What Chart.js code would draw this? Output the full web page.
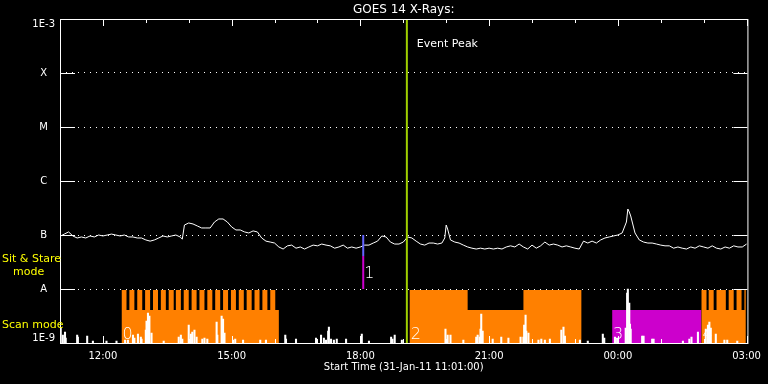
<!DOCTYPE html>
<html>
<head>
<meta charset="utf-8">
<script src="https://cdn.jsdelivr.net/npm/chart.js@4.4.1/dist/chart.umd.min.js"></script>
<style>
  html, body { margin: 0; padding: 0; background: #000; }
  canvas { display: block; }
</style>
</head>
<body>
<canvas id="goes" width="768" height="384"></canvas>
<script>
// GOES 14 1-8 A flux, 31-Jan-11 11:01 -> 01-Feb-11 03:00 (W/m^2)
const curveTimes = [
  '11:01','11:06','11:12','11:18','11:24','11:30','11:36','11:42','11:48','11:54',
  '12:00','12:06','12:12','12:18','12:24','12:30','12:36','12:42','12:48','12:54',
  '13:00','13:06','13:12','13:18','13:24','13:30','13:36','13:42','13:48','13:51',
  '13:54','14:00','14:06','14:12','14:18','14:24','14:30','14:36','14:42','14:48',
  '14:54','15:00','15:06','15:12','15:18','15:24','15:30','15:36','15:42','15:48',
  '15:54','16:00','16:06','16:12','16:18','16:24','16:30','16:36','16:42','16:48',
  '16:54','17:00','17:06','17:12','17:18','17:24','17:30','17:36','17:42','17:48',
  '17:54','18:00','18:06','18:12','18:18','18:24','18:30','18:36','18:42','18:48',
  '18:54','19:00','19:06','19:12','19:18','19:24','19:30','19:36','19:42','19:48',
  '19:54','19:58','20:00','20:02','20:06','20:12','20:18','20:24','20:30','20:36',
  '20:42','20:48','20:54','21:00','21:06','21:12','21:18','21:24','21:30','21:36',
  '21:42','21:48','21:54','22:00','22:06','22:12','22:18','22:24','22:30','22:36',
  '22:42','22:48','22:54','23:00','23:06','23:12','23:18','23:24','23:30','23:36',
  '23:42','23:48','23:54','00:00','00:06','00:12','00:14','00:16','00:18','00:24',
  '00:30','00:36','00:42','00:48','00:54','01:00','01:06','01:12','01:18','01:24',
  '01:30','01:36','01:42','01:48','01:54','02:00','02:06','02:12','02:18','02:24',
  '02:30','02:36','02:42','02:48','02:54','03:00'
];
const curveFlux = [
  9.6e-8, 1.04e-7, 1.14e-7, 9.6e-8, 8.8e-8, 9.2e-8, 8.8e-8, 9.6e-8, 9.2e-8, 1.0e-7,
  9.6e-8, 1.0e-7, 1.04e-7, 1.0e-7, 9.6e-8, 1.0e-7, 9.2e-8, 9.2e-8, 8.8e-8, 8.8e-8,
  8.1e-8, 7.7e-8, 8.1e-8, 8.8e-8, 9.6e-8, 9.2e-8, 9.6e-8, 1.0e-7, 9.2e-8, 8.4e-8,
  1.53e-7, 1.67e-7, 1.60e-7, 1.47e-7, 1.35e-7, 1.35e-7, 1.35e-7, 1.74e-7, 1.98e-7, 1.98e-7,
  1.74e-7, 1.41e-7, 1.24e-7, 1.24e-7, 1.14e-7, 1.09e-7, 1.19e-7, 1.14e-7, 8.8e-8, 7.7e-8,
  7.4e-8, 7.1e-8, 6.0e-8, 5.5e-8, 6.3e-8, 6.5e-8, 5.7e-8, 6.0e-8, 5.5e-8, 6.0e-8,
  6.5e-8, 6.3e-8, 6.8e-8, 6.5e-8, 6.3e-8, 5.7e-8, 6.0e-8, 6.5e-8, 5.7e-8, 6.0e-8,
  5.7e-8, 6.0e-8, 6.5e-8, 6.5e-8, 7.1e-8, 7.7e-8, 9.6e-8, 9.2e-8, 7.4e-8, 6.8e-8,
  6.8e-8, 7.4e-8, 9.2e-8, 8.8e-8, 7.7e-8, 6.8e-8, 6.5e-8, 7.1e-8, 7.1e-8, 6.8e-8,
  7.1e-8, 8.8e-8, 1.53e-7, 1.29e-7, 8.1e-8, 7.4e-8, 7.1e-8, 6.5e-8, 6.0e-8, 5.7e-8,
  5.5e-8, 5.7e-8, 5.5e-8, 5.7e-8, 5.5e-8, 5.7e-8, 5.5e-8, 6.0e-8, 6.3e-8, 6.0e-8,
  6.8e-8, 6.0e-8, 5.5e-8, 6.5e-8, 5.7e-8, 6.3e-8, 7.4e-8, 6.5e-8, 6.8e-8, 6.5e-8,
  6.0e-8, 6.3e-8, 6.0e-8, 5.7e-8, 5.5e-8, 7.7e-8, 7.1e-8, 7.7e-8, 7.1e-8, 8.1e-8,
  8.8e-8, 9.2e-8, 9.6e-8, 1.0e-7, 1.09e-7, 1.74e-7, 3.03e-7, 2.67e-7, 2.25e-7, 1.09e-7,
  8.1e-8, 7.4e-8, 7.1e-8, 7.1e-8, 6.8e-8, 6.5e-8, 6.3e-8, 6.3e-8, 5.7e-8, 6.0e-8,
  5.7e-8, 5.5e-8, 6.0e-8, 5.7e-8, 6.3e-8, 6.0e-8, 5.7e-8, 6.3e-8, 5.7e-8, 5.5e-8,
  6.0e-8, 5.7e-8, 6.3e-8, 6.0e-8, 6.0e-8, 6.8e-8
];

// spiky count trace along the bottom band
const spikeTimes = [
  '11:01','11:04','11:07','11:08','11:24','11:25','11:38','11:46','12:05','12:19',
  '12:31','12:35','12:42','12:44','12:49','12:53','12:54','13:00','13:01','13:03',
  '13:05','13:08','13:25','13:46','13:49','13:51','14:00','14:03','14:05','14:08',
  '14:11','14:19','14:22','14:26','14:39','14:40','14:46','14:48','14:50','15:02',
  '15:05','15:16','15:40','15:48','16:15','16:16','16:30','16:58','17:05','17:09',
  '17:12','17:15','17:16','17:19','17:23','17:27','17:40','18:02','18:12','18:43',
  '18:45','18:48','18:58','19:59','20:02','20:06','20:24','20:42','20:44','20:47',
  '20:48','20:49','20:51','21:05','21:17','21:27','21:44','21:48','21:49','21:51',
  '21:52','21:55','22:09','22:13','22:18','22:25','22:41','22:44','22:46','23:07',
  '23:18','23:39','23:41','23:56','23:59','00:11','00:13','00:14','00:16','00:17',
  '00:18','00:34','00:36','00:48','00:50','01:31','01:40','01:43','01:52','02:03',
  '02:06','02:08','02:10','02:17','02:29','02:33','02:47'
];
const spikeCounts = [
  15, 8, 11, 5, 8, 6, 7, 2, 2, 2,
  3, 3, 8, 5, 9, 6, 4, 13, 22, 30,
  27, 10, 2, 6, 8, 4, 18, 9, 11, 13,
  6, 4, 5, 4, 21, 8, 27, 24, 10, 3,
  4, 3, 3, 3, 8, 4, 4, 5, 8, 5,
  3, 12, 16, 4, 3, 4, 4, 9, 2, 6,
  4, 8, 3, 14, 8, 8, 3, 6, 8, 6,
  14, 29, 12, 4, 6, 5, 6, 6, 18, 28,
  12, 10, 3, 4, 3, 4, 13, 16, 7, 3,
  2, 9, 5, 6, 5, 15, 50, 54, 40, 19,
  14, 7, 7, 4, 4, 2, 4, 6, 11, 14,
  18, 21, 15, 9, 3, 3, 2
];

// instrument mode timeline: each mode holds until the next change
const scanTimes = [
  '12:26','12:33','12:37','12:44','12:48','12:55','12:59','13:06','13:10','13:17',
  '13:21','13:28','13:32','13:39','13:42','13:49','13:53','14:00','14:04','14:11',
  '14:15','14:22','14:26','14:33','14:37','14:44','14:48','14:55','14:59','15:06',
  '15:10','15:17','15:21','15:28','15:32','15:39','15:43','15:50','15:54','16:01',
  '16:06','19:09','20:30','21:48','23:09','01:57','02:04','02:07','02:14','02:18',
  '02:31','02:35','02:42','02:46','02:53','02:57','02:59'
];
const scanModes = [
  'high','low','high','low','high','low','high','low','high','low',
  'high','low','high','low','high','low','high','low','high','low',
  'high','low','high','low','high','low','high','low','high','low',
  'high','low','high','low','high','low','high','low','high','low',
  'off','high','low','high','off','high','low','high','low','high',
  'low','high','low','high','low','high','off'
];
const stareTimes = ['23:52', '01:57'];
const stareModes = ['low', 'off'];
const modeLevel = { high: 0.98, low: 0.61, off: 0 };

const regionLabels = ['0', '2', '3', '4'];
const regionStarts = ['12:26', '19:09', '23:52', '01:57'];

const peakTime = '19:05';
const markTime = '18:04';
const markLabel = '1';
const markFlux = [1e-7, 4.1e-8, 1e-8];

const xTickHours = [12, 15, 18, 21, 24, 27];
const xTickLabels = ['12:00', '15:00', '18:00', '21:00', '00:00', '03:00'];
const yTickValues = [1e-9, 1e-8, 1e-7, 1e-6, 1e-5, 1e-4, 1e-3];
const yTickLabels = ['1E-9', 'A', 'B', 'C', 'M', 'X', '1E-3'];

// times before 11:00 are on the next day
function hrs(t) {
  const [h, m] = t.split(':').map(Number);
  return (h < 11 ? h + 24 : h) + m / 60;
}
const xy = (times, vals) => times.map((t, i) => ({ x: hrs(t), y: vals[i] }));

// turn a list of mode changes into a step outline (old level, then new level at each change)
function steps(times, modes) {
  const pts = [];
  times.forEach((t, i) => {
    const x = hrs(t);
    if (i > 0) pts.push({ x, y: modeLevel[modes[i - 1]] });
    pts.push({ x, y: modeLevel[modes[i]] });
  });
  return pts;
}

Chart.defaults.font.family = '"DejaVu Sans", sans-serif';

const decor = {
  id: 'decor',
  afterDatasetsDraw(chart) {
    const { ctx, chartArea: a, scales: { x, y } } = chart;
    ctx.save();
    ctx.strokeStyle = '#fff';
    ctx.lineWidth = 1;
    ctx.beginPath();
    yTickValues.forEach(v => {
      const py = Math.round(y.getPixelForValue(v)) + 0.5;
      ctx.moveTo(a.left, py); ctx.lineTo(a.left + 15, py);
      ctx.moveTo(a.right - 14, py); ctx.lineTo(a.right, py);
    });
    for (let h = 11; h <= 27; h++) {
      const px = Math.round(x.getPixelForValue(h)) + 0.5;
      const len = h % 3 === 0 ? 7 : 4;
      ctx.moveTo(px, a.top); ctx.lineTo(px, a.top + len);
      ctx.moveTo(px, a.bottom); ctx.lineTo(px, a.bottom - len);
    }
    ctx.stroke();
    ctx.strokeRect(a.left + 0.5, a.top + 0.5, a.right - a.left, a.bottom - a.top);

    ctx.textAlign = 'left';
    ctx.textBaseline = 'alphabetic';
    ctx.fillStyle = '#ff0';
    ctx.font = '11px "DejaVu Sans"';
    ctx.fillText('Sit & Stare', 2, 262);
    ctx.fillText('mode', 13, 275);
    ctx.fillText('Scan mode', 2, 328);

    ctx.fillStyle = '#fff';
    ctx.fillText('Event Peak', x.getPixelForValue(hrs(peakTime)) + 10, 47);

    ctx.font = '200 16px "DejaVu Sans"';
    regionLabels.forEach((l, i) => {
      ctx.fillText(l, x.getPixelForValue(hrs(regionStarts[i])) + 1, 339);
    });
    ctx.fillText(markLabel, x.getPixelForValue(hrs(markTime)) + 1, 278);
    ctx.restore();
  }
};

new Chart(document.getElementById('goes'), {
  type: 'line',
  data: {
    datasets: [
      {
        label: 'Event Peak',
        data: [{ x: hrs(peakTime), y: 1e-9 }, { x: hrs(peakTime), y: 1e-3 }],
        borderColor: '#a0d000', borderWidth: 2, pointRadius: 0
      },
      {
        label: 'event 1',
        data: [{ x: hrs(markTime), y: markFlux[0] }, { x: hrs(markTime), y: markFlux[1] }],
        borderColor: '#6464ff', borderWidth: 2, pointRadius: 0
      },
      {
        label: 'event 1 (lower)',
        data: [{ x: hrs(markTime), y: markFlux[1] }, { x: hrs(markTime), y: markFlux[2] }],
        borderColor: '#cc00cc', borderWidth: 2, pointRadius: 0
      },
      {
        label: 'GOES 14',
        data: xy(curveTimes, curveFlux),
        borderColor: '#fff', borderWidth: 1, pointRadius: 0, tension: 0
      },
      {
        type: 'bar',
        label: 'counts',
        data: xy(spikeTimes, spikeCounts),
        yAxisID: 'ySpike',
        backgroundColor: '#fff', borderWidth: 0, barThickness: 1.4
      },
      {
        label: 'Scan mode',
        data: steps(scanTimes, scanModes),
        yAxisID: 'yMode', fill: 'origin',
        backgroundColor: '#ff8000', borderColor: 'transparent', borderWidth: 0, pointRadius: 0
      },
      {
        label: 'Sit & Stare',
        data: steps(stareTimes, stareModes),
        yAxisID: 'yMode', fill: 'origin',
        backgroundColor: '#cc00cc', borderColor: 'transparent', borderWidth: 0, pointRadius: 0
      }
    ]
  },
  options: {
    responsive: false,
    devicePixelRatio: 1,
    animation: false,
    events: [],
    layout: { padding: { left: 0, right: 18, top: 0, bottom: 0 } },
    plugins: {
      legend: { display: false },
      tooltip: { enabled: false },
      title: {
        display: true, text: 'GOES 14 X-Rays:', color: '#fff', fullSize: false,
        font: { size: 12, weight: 'normal', lineHeight: 1.2 },
        padding: { top: 3, bottom: 1.6 }
      }
    },
    scales: {
      x: {
        type: 'linear', min: 11, max: 27.02, offset: false,
        grid: { display: false, drawTicks: false, offset: false },
        border: { display: false },
        afterBuildTicks: s => { s.ticks = xTickHours.map(v => ({ value: v })); },
        ticks: {
          color: '#fff', font: { size: 10 }, padding: 7, maxRotation: 0, autoSkip: false,
          callback: (v, i) => xTickLabels[i]
        },
        title: {
          display: true, text: 'Start Time (31-Jan-11 11:01:00)', color: '#fff',
          font: { size: 10 }, padding: { top: 0, bottom: 11 }
        },
        afterFit: s => { s.height = 41; }
      },
      y: {
        type: 'logarithmic', min: 1e-9, max: 1e-3,
        afterBuildTicks: s => { s.ticks = yTickValues.map(v => ({ value: v })); },
        grid: { color: '#fff', lineWidth: 1, drawTicks: false },
        border: { display: false, dash: [1, 5] },
        ticks: {
          color: '#fff', font: { size: 10, lineHeight: 1 }, padding: 5, crossAlign: 'center',
          callback: (v, i) => {
            if (i === 0) return [yTickLabels[i], ''];
            if (i === yTickLabels.length - 1) return ['', yTickLabels[i]];
            return yTickLabels[i];
          }
        },
        afterFit: s => { s.width = 60; }
      },
      yMode: { type: 'linear', display: false, min: 0, max: 6 },
      ySpike: { type: 'linear', display: false, min: 0, max: 324 }
    }
  },
  plugins: [decor]
});
</script>
</body>
</html>
